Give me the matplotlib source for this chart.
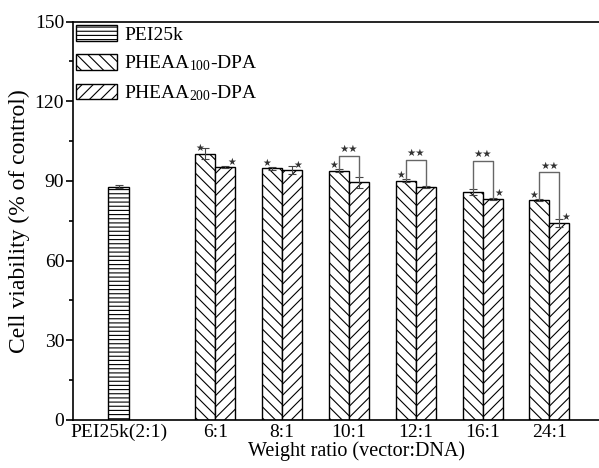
import matplotlib
matplotlib.use("Agg")
import matplotlib.pyplot as plt
from matplotlib.patches import Patch
from matplotlib.ticker import MultipleLocator

plt.rcParams['font.family'] = ['Liberation Serif', 'DejaVu Serif']
plt.rcParams['hatch.linewidth'] = 0.8
plt.rcParams['mathtext.fontset'] = 'custom'
plt.rcParams['mathtext.rm'] = 'Liberation Serif'
plt.rcParams['mathtext.it'] = 'Liberation Serif'

# ---- data ----
tick_labels = ["PEI25k(2:1)", "6:1", "8:1", "10:1", "12:1", "16:1", "24:1"]
ratios = ["6:1", "8:1", "10:1", "12:1", "16:1", "24:1"]
pei_value = 87.8
pei_err = 0.5
pheaa100 = [100.2, 94.7, 93.8, 90.1, 85.9, 82.8]
pheaa100_err = [2.0, 0.5, 0.5, 0.5, 1.2, 0.5]
pheaa200 = [95.2, 94.1, 89.5, 87.6, 83.2, 74.3]
pheaa200_err = [0.5, 1.5, 2.0, 0.3, 0.5, 1.5]
# single-star significance flags (per bar)
star100 = [True, True, True, True, False, True]
star200 = [True, True, False, False, True, True]
# double-star comparison between the two polymers
double_star = [False, False, True, True, True, True]
bracket_top = [0, 0, 99.5, 97.9, 97.6, 93.3]

legend_labels = ["PEI25k", "PHEAA$_{100}$-DPA", "PHEAA$_{200}$-DPA"]

# ---- layout ----
W, H = 599, 468
fig = plt.figure(figsize=(W / 100, H / 100), dpi=100)
ax_left, ax_right, ax_top, ax_bottom = 72.5, 640, 21.5, 420
ax = fig.add_axes([ax_left / W, (H - ax_bottom) / H,
                   (ax_right - ax_left) / W, (ax_bottom - ax_top) / H])

unit = 66.8
pei_x = 0.0
gap = 1.45
group_x = [gap + i for i in range(len(ratios))]
bw = 0.30

ax.bar([pei_x], [pei_value], width=0.31, color='white', edgecolor='black',
       hatch='----', linewidth=1.0, zorder=2)
ax.errorbar([pei_x], [pei_value], yerr=[pei_err], fmt='none', ecolor='#444444',
            elinewidth=0.8, capsize=3, capthick=0.8, zorder=3)

x100 = [g - bw / 2 for g in group_x]
x200 = [g + bw / 2 for g in group_x]
ax.bar(x100, pheaa100, width=bw, color='white', edgecolor='black',
       hatch='\\\\\\', linewidth=1.0, zorder=2)
ax.bar(x200, pheaa200, width=bw, color='white', edgecolor='black',
       hatch='///', linewidth=1.0, zorder=2)
ax.errorbar(x100, pheaa100, yerr=pheaa100_err, fmt='none', ecolor='#444444',
            elinewidth=0.8, capsize=3, capthick=0.8, zorder=3)
ax.errorbar(x200, pheaa200, yerr=pheaa200_err, fmt='none', ecolor='#444444',
            elinewidth=0.8, capsize=3, capthick=0.8, zorder=3)

star_font = dict(family=['DejaVu Sans'], color='#333333', zorder=4)
# single stars
for i in range(len(ratios)):
    if star100[i]:
        ax.text(x100[i] - 0.08, pheaa100[i] + 0.2, '\u2605', ha='center',
                va='bottom', fontsize=7, **star_font)
    if star200[i]:
        ax.text(x200[i] + 0.09, pheaa200[i] + 0.2, '\u2605', ha='center',
                va='bottom', fontsize=7, **star_font)

# brackets
for i in range(len(ratios)):
    if double_star[i]:
        top = bracket_top[i]
        y1 = pheaa100[i] + pheaa100_err[i]
        y2 = pheaa200[i] + pheaa200_err[i]
        ax.plot([x100[i], x100[i], x200[i], x200[i]], [y1, top, top, y2],
                color='#666666', lw=1.0, zorder=4)
        ax.text(group_x[i], top + 0.6, '\u2605\u2605', ha='center',
                va='bottom', fontsize=7.5, **star_font)

ax.set_ylim(0, 150)
ax.set_xlim(pei_x - (118.5 - ax_left) / unit, pei_x + (ax_right - 118.5) / unit)
ax.set_xticks([pei_x] + group_x)
ax.set_xticklabels(tick_labels)
ax.yaxis.set_major_locator(MultipleLocator(30))
ax.yaxis.set_minor_locator(MultipleLocator(15))
ax.tick_params(axis='y', which='major', direction='out', length=5, width=1.2,
               labelsize=14, pad=1)
ax.tick_params(axis='y', which='minor', direction='out', length=3, width=1.2)
ax.tick_params(axis='x', length=0, labelsize=14, pad=3)
for s in ['left', 'bottom', 'top']:
    ax.spines[s].set_linewidth(1.2)
ax.spines['right'].set_visible(False)

ax.set_ylabel('Cell viability (% of control)', fontsize=17, labelpad=3)
ax.set_xlabel('Weight ratio (vector:DNA)', fontsize=14.5, labelpad=0)

handles = [Patch(facecolor='white', edgecolor='black', hatch='----', lw=1.0),
           Patch(facecolor='white', edgecolor='black', hatch='\\\\\\', lw=1.0),
           Patch(facecolor='white', edgecolor='black', hatch='///', lw=1.0)]
ax.legend(handles, legend_labels, loc='upper left', frameon=False,
          fontsize=14, handlelength=2.1, handleheight=0.85,
          borderaxespad=0.1, borderpad=0.1, labelspacing=0.5,
          handletextpad=0.35)

fig.savefig('out.png', dpi=100)
